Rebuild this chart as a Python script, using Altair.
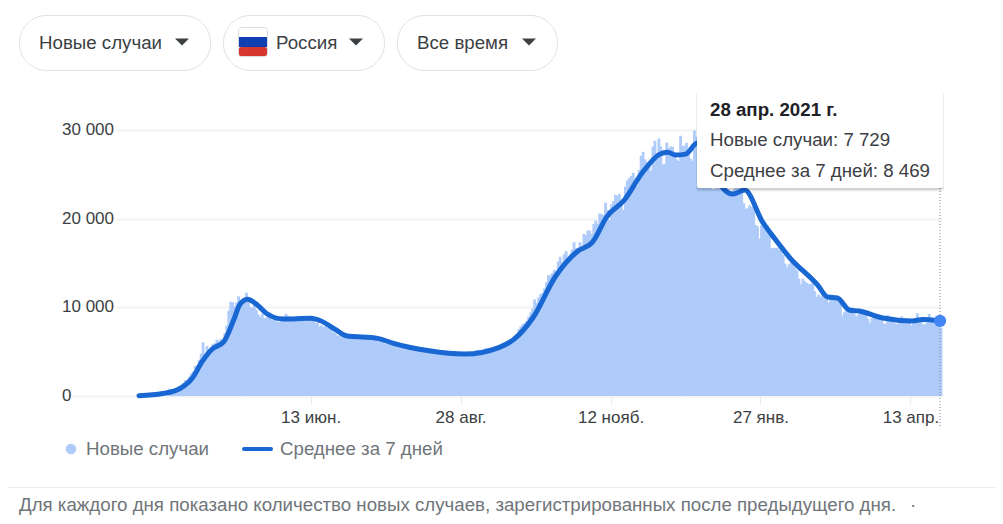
import altair as alt
import pandas as pd

FIRST_DAY = "2020-03-18"
daily_cases = [
    33,54,53,53,71,57,71,
    163,182,196,228,270,302,500,
    440,771,601,582,658,954,1154,
    1175,1459,1786,1667,2186,2558,2774,
    3388,3448,4070,4785,6060,4268,5642,
    5236,4774,5849,5966,6361,6198,6411,
    5841,7099,7933,9623,10633,10581,10102,
    10559,11231,10699,10817,11012,11656,10899,
    10028,9974,10598,9709,9200,8926,9263,
    8764,8849,8894,9434,8599,8946,8915,
    8338,8371,8572,8952,9268,9035,8863,
    8536,8831,8726,8855,8984,8985,8595,
    8404,8779,8987,8706,8835,8246,8248,
    7843,7972,7790,7889,7728,7600,7425,
    7176,7113,6800,6852,6719,6693,6719,
    6556,6760,6718,6736,6632,6611,6368,
    6562,6509,6635,6611,6615,6537,6248,
    6422,6428,6406,6234,6109,5940,5842,
    5862,5848,5811,5871,5765,5635,5475,
    5395,5509,5482,5462,5427,5394,5159,
    5204,5241,5212,5189,5118,5102,4945,
    5065,5057,5061,5102,4969,4839,4718,
    4748,4785,4870,4921,4852,4744,4696,
    4676,4711,4829,4829,4897,4729,4729,
    4952,4995,5110,5195,5205,5099,5185,
    5363,5394,5405,5449,5509,5361,5529,
    5670,5905,5905,6065,6148,6196,6215,
    6431,6595,6529,7523,7867,8135,8232,
    8481,8945,9412,9859,10888,10499,11115,
    11493,11615,12126,12846,13634,13592,13868,
    14231,13754,15150,15700,15099,15982,16319,
    14922,15971,16521,17340,16710,16550,17347,
    16202,18283,18140,18665,18648,18257,19404,
    19768,19404,20582,20498,20396,21798,20977,
    19851,21608,21983,22702,22572,22778,21798,
    20985,23610,24318,24581,24822,25173,24326,
    23675,25487,27100,27543,26683,26338,26402,
    25345,28145,28782,27403,29039,28142,26097,
    26190,28585,27927,28137,28080,27328,26689,
    26509,29350,28214,28209,28552,27787,26754,
    26513,29935,29258,29018,29702,28284,27039,
    26513,27747,26301,23351,23309,23652,23652,
    24246,23541,23652,24092,23309,22857,22934,
    23315,24092,24715,24763,23586,21734,21127,
    21152,21513,21350,21127,19290,19138,17741,
    19238,19138,19290,19238,18359,16643,16714,
    16688,16714,16471,16627,15916,14928,14494,
    14861,15038,14861,14494,14185,13233,12604,
    13233,12953,12742,12604,12641,12742,11823,
    11198,11437,11198,11534,11022,11024,10535,
    11385,11407,11024,11022,10595,10535,9079,
    9445,10253,9557,9693,9908,9557,8951,
    9195,9803,9299,9632,9299,8704,8217,
    8769,9128,9088,8885,9088,8910,8162,
    8162,9128,8885,8910,8328,8162,8120,
    8294,8996,8702,8704,8589,8328,7979,
    8173,8646,9326,8702,8589,8053,8120,
    8271,9270,8589,8807,8702,8053,8120,
    7729,
]
avg_day = [0,12,21,27,32,37,43,48,51,55,60,65,73,87,92,100,105,121,129,147,165,183,190,200,211,222,230,237,246,255,264,268,272,277,283,290,296,301,307,316,322,330,344,349,354,360,365,377,392,397,406]
avg_value = [40,280,870,2000,3870,5270,6120,8570,10260,10900,10260,9250,8680,8760,8490,7440,6800,6500,5940,5100,4730,5520,6390,8940,13450,16270,17400,20180,22100,25140,27280,27500,27170,27280,28520,26800,23450,22770,23220,19650,17810,15560,12510,11160,11050,9700,9580,8790,8460,8620,8469]
y_ticks = [0, 10000, 20000, 30000]
y_tick_labels = ["0", "10 000", "20 000", "30 000"]
x_tick_labels = {"06": "13 июн.", "08": "28 авг.", "11": "12 нояб.", "01": "27 янв.", "04": "13 апр."}
SERIES_A = "Новые случаи"
SERIES_B = "Среднее за 7 дней"
FOOTNOTE = "Для каждого дня показано количество новых случаев, зарегистрированных после предыдущего дня."

FONT = "Liberation Sans"
BLUE = "#1967d2"
PALE = "#aecbfa"
DARK = "#3c4043"
GREY = "#70757a"

start = pd.Timestamp(FIRST_DAY)
bars_df = pd.DataFrame({"date": pd.date_range(start, periods=len(daily_cases)), "cases": daily_cases})
line_df = pd.DataFrame({"date": [start + pd.Timedelta(days=d) for d in avg_day], "avg": avg_value})
last_df = line_df.tail(1)
ticks_df = pd.DataFrame({"v": y_ticks, "label": y_tick_labels})

labels_expr = "{" + ",".join(f"'{k}':'{v}'" for k, v in x_tick_labels.items()) + "}[timeFormat(datum.value,'%m')]"
x_enc = alt.X(
    "date:T", title=None,
    scale=alt.Scale(domain=[alt.DateTime(year=2020, month=2, date=8), alt.DateTime(year=2021, month=4, date=29)], padding=0),
    axis=alt.Axis(
        values=[alt.DateTime(year=2020, month=6, date=13), alt.DateTime(year=2020, month=8, date=28),
                alt.DateTime(year=2020, month=11, date=12), alt.DateTime(year=2021, month=1, date=27),
                alt.DateTime(year=2021, month=4, date=13)],
        labelExpr=labels_expr, domain=False, grid=False, tickColor="#e8eaed", tickSize=8, tickWidth=1,
        labelPadding=5, labelFont=FONT, labelFontSize=17, labelColor=DARK, labelOverlap=False, labelFlush=False),
)
y_scale = alt.Scale(domain=[0, 30000], nice=False)
y_enc = alt.Y(
    "cases:Q", title=None, scale=y_scale,
    axis=alt.Axis(values=y_ticks, labels=False, ticks=False, domain=False, grid=True, gridColor="#f1f3f4", gridWidth=2),
)

OX, OY = 62, 130
one = alt.Data(values=[{"a": 1}])


def box(x0, y0, x1, y1, **kw):
    return alt.Chart(one).mark_rect(**kw).encode(
        x=alt.value(x0 - OX), x2=alt.value(x1 - OX), y=alt.value(y0 - OY), y2=alt.value(y1 - OY))


def word(text, x, y, size=18.7, color=DARK, weight="normal", align="left"):
    return alt.Chart(one).mark_text(text=text, align=align, baseline="middle", font=FONT, fontSize=size,
                                    color=color, fontWeight=weight).encode(x=alt.value(x - OX), y=alt.value(y - OY))


def caret(x, y):
    return alt.Chart(one).mark_point(shape="M-1,-0.5L1,-0.5L0,0.5Z", filled=True, opacity=1, size=196, color=DARK,
                                     strokeWidth=0).encode(x=alt.value(x - OX), y=alt.value(y - OY))


layers = [
    # white backing so that gridlines start after the tick labels
    box(62, 120, 116, 140, color="white"),
    box(62, 209, 116, 229, color="white"),
    box(62, 297, 116, 317, color="white"),
    box(62, 386, 72, 406, color="white"),
    alt.Chart(ticks_df).mark_text(align="left", baseline="middle", font=FONT, fontSize=17, color=DARK).encode(
        x=alt.value(0), y=alt.Y("v:Q", scale=y_scale), text="label:N"),
    alt.Chart(bars_df).mark_bar(size=2.8, color=PALE, xOffset=1).encode(x=x_enc, y=y_enc),
    alt.Chart(line_df).mark_line(color=BLUE, strokeWidth=5, interpolate="monotone", strokeCap="round").encode(
        x="date:T", y=alt.Y("avg:Q", scale=y_scale)),
    alt.Chart(last_df).mark_rule(color="#80868b", strokeDash=[1, 2], strokeWidth=1).encode(
        x="date:T", y=alt.value(92 - OY), y2=alt.value(428 - OY)),
    alt.Chart(last_df).mark_circle(color="#4285f4", size=150, opacity=1).encode(
        x="date:T", y=alt.Y("avg:Q", scale=y_scale)),
    # tooltip
    box(696, 92, 944, 192, color="#000000", opacity=0.03, cornerRadius=3),
    box(696, 92, 944, 191, color="#000000", opacity=0.05, cornerRadius=3),
    box(697, 92, 943, 190, color="#000000", opacity=0.1, cornerRadius=3),
    box(697, 92, 943, 188, color="white", cornerRadius=2),
    word("28 апр. 2021 г.", 710, 110, weight="bold", color="#202124"),
    word(SERIES_A + ": 7 729", 710, 140),
    word(SERIES_B + ": 8 469", 710, 171),
    # filter chips
    box(19.5, 15.5, 210.5, 70.5, fill="white", stroke="#e0e0e0", cornerRadius=27),
    box(223.5, 15.5, 384.5, 70.5, fill="white", stroke="#e0e0e0", cornerRadius=27),
    box(397.5, 15.5, 557.5, 70.5, fill="white", stroke="#e0e0e0", cornerRadius=27),
    word(SERIES_A, 39, 43),
    word("Россия", 276, 43),
    word("Все время", 417, 43),
    caret(182, 42), caret(356, 42), caret(529, 42),
    box(238.5, 27.5, 267.5, 56.5, fill="white", stroke="#dadce0", cornerRadius=3),
    box(239, 37, 267, 47, color="#0f3fb0"),
    box(239, 47, 267, 56, color="#d6362b", cornerRadius=2),
    # legend
    alt.Chart(one).mark_circle(color=PALE, size=113, opacity=1).encode(x=alt.value(71 - OX), y=alt.value(449 - OY)),
    word(SERIES_A, 86, 449, color=GREY),
    alt.Chart(one).mark_rule(color=BLUE, strokeWidth=4, strokeCap="round").encode(
        x=alt.value(244 - OX), x2=alt.value(271 - OX), y=alt.value(449 - OY)),
    word(SERIES_B, 280, 449, color=GREY),
    # footer
    alt.Chart(one).mark_rule(color="#e8eaed", strokeWidth=1).encode(
        x=alt.value(0 - OX), x2=alt.value(1003 - OX), y=alt.value(487.5 - OY)),
    word(FOOTNOTE, 19, 505, color=GREY),
    word("·", 910, 505, color=GREY),
]

chart = alt.layer(*layers).properties(
    width=880, height=266,
    autosize=alt.AutoSizeParams(type="none"),
    padding={"left": 54, "top": 122, "right": 53, "bottom": 120},
).configure_view(stroke=None)

chart.save("out.html", embed_options={"renderer": "svg", "actions": False})
